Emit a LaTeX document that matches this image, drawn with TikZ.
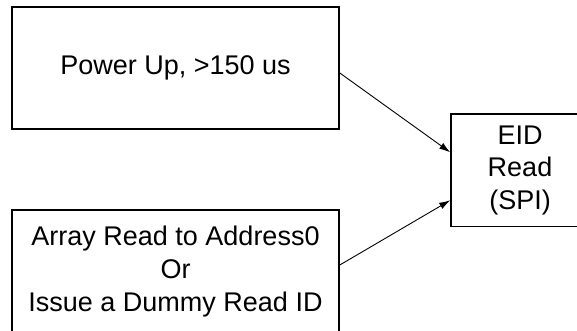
\documentclass[tikz,border=0pt]{standalone}
\usepackage{fontspec}
\setmainfont{Liberation Sans}
\usetikzlibrary{arrows.meta}
\begin{document}
\begin{tikzpicture}[x=1pt,y=-1pt,
  box/.style={draw=black, line width=1.6pt, rectangle, align=center, inner sep=0pt,
    font=\fontsize{27}{33}\selectfont},
  conn/.style={draw=black, line width=0.9pt, -{Latex[length=11pt,width=7pt]}}]
\useasboundingbox (0,0) rectangle (577,331);
\clip (0,0) rectangle (577,331);
\fill[white] (0,0) rectangle (577,331);
\node[box, minimum width=327pt, minimum height=122pt] (pwr) at (175.5,68) {Power Up, >150 us};
\node[box, minimum width=327pt, minimum height=123pt] (arr) at (175.5,271.5) {Array Read to Address0\\Or\\Issue a Dummy Read ID};
\node[box, minimum width=138pt, minimum height=112.7pt, font=\fontsize{27}{32.5}\selectfont] (eid) at (520,170.3) {EID\\Read\\(SPI)};
\draw[conn] ([yshift=-5pt]pwr.east) -- ([yshift=18pt]eid.west);
\draw[conn] ([yshift=6.5pt]arr.east) -- ([yshift=-30pt]eid.west);
\end{tikzpicture}
\end{document}
